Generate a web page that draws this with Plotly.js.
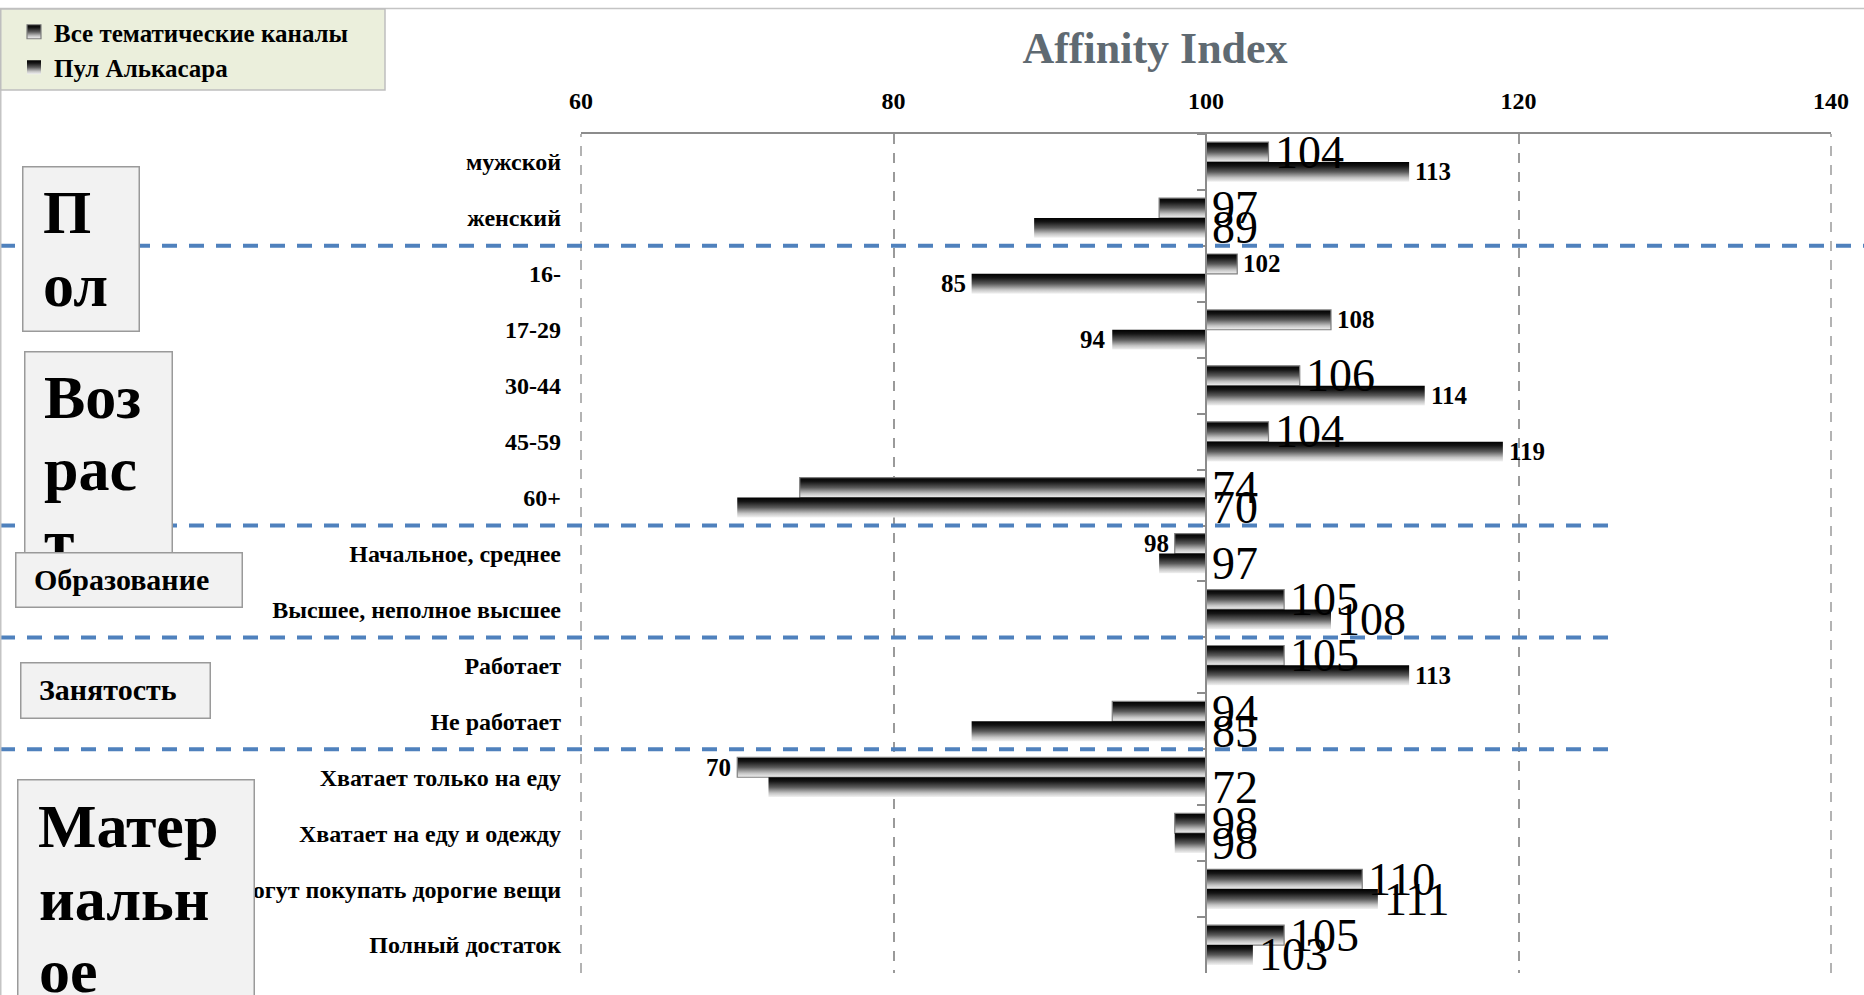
<!DOCTYPE html>
<html><head><meta charset="utf-8">
<script src="https://cdn.plot.ly/plotly-3.0.1.min.js"></script>
<style>html,body{margin:0;padding:0;background:#fff;} #chart{width:1864px;height:995px;}</style>
</head><body><div id="chart"></div>
<script>
// ---------------- data ----------------
const categories = ['мужской','женский','16-','17-29','30-44','45-59','60+',
  'Начальное, среднее','Высшее, неполное высшее','Работает','Не работает',
  'Хватает только на еду','Хватает на еду и одежду','Могут покупать дорогие вещи','Полный достаток'];
const seriesNames = ['Все тематические каналы','Пул Алькасара'];
const allChannels = [104,97,102,108,106,104,74,98,105,105,94,70,98,110,105];
const alcazarPool = [113,89,85,94,114,119,70,97,108,113,85,72,98,111,103];
const groupSizes = [2,5,2,2,4];
const xTicks = [60,80,100,120,140];
const xRange = [60,140];
const baseline = 100;
// label style flags (1 = large regular label, 0 = small bold label)
const allChannelsBig = [1,1,0,0,1,1,1,0,1,1,1,0,1,1,1];
const alcazarPoolBig = [0,1,0,0,0,0,1,1,1,0,1,1,1,1,1];

// ---------------- layout helpers ----------------
const W = 1864, H = 995;
const M = {l:581, r:33, t:134, b:22};
const PW = W - M.l - M.r, PH = H - M.t - M.b;
const px2x = px => (px - M.l) / PW;
const px2y = py => (H - M.b - py) / PH;
const SERIF = 'Liberation Serif, Times New Roman, serif';
const bargap = 0.29;
const GRID = '#9A9A9A';

function barTrace(name, vals, lineColor, lineWidth){
  return {
    type:'bar', orientation:'h', name:name,
    y: categories, x: vals.map(v => v - baseline), base: baseline,
    customdata: vals, hovertemplate:'%{y}: %{customdata}<extra>'+name+'</extra>',
    marker:{color:'#555', line:{color:lineColor, width:lineWidth}},
    textposition:'none'
  };
}
const traces = [
  barTrace(seriesNames[0], allChannels, '#7f7f7f', 1.2),
  barTrace(seriesNames[1], alcazarPool, 'rgba(0,0,0,0)', 0),
  {type:'scatter', mode:'markers', y:categories, x:categories.map(()=>baseline), yaxis:'y2',
   marker:{opacity:0}, hoverinfo:'skip', showlegend:false}
];

// value labels
const pxPerCat = PH / categories.length;
const barOff = (1 - bargap) * pxPerCat / 4;
function labelAnn(v, cat, big, up){
  const neg = v < baseline;
  let x = v, xanchor = 'left', xshift = 5;
  if (neg && big) { x = baseline; }
  else if (neg) { xanchor = 'right'; xshift = -5; }
  return {xref:'x', yref:'y', x:x, y:cat, text:String(v), showarrow:false,
    xanchor:xanchor, yanchor:'middle', xshift:xshift, yshift: up ? barOff : -barOff, borderpad:0,
    font: big ? {size:46, family:SERIF, color:'#000'} : {size:25, family:SERIF, color:'#000', weight:'bold'}};
}
const annotations = [];
categories.forEach((c,i)=>{
  annotations.push(labelAnn(allChannels[i], c, allChannelsBig[i], true));
  annotations.push(labelAnn(alcazarPool[i], c, alcazarPoolBig[i], false));
});

// group boxes
function boxAnn(l,t,r,b){
  return {xref:'paper', yref:'paper', x:px2x(l), y:px2y(t), xanchor:'left', yanchor:'top',
    width:r-l, height:b-t, text:' ', showarrow:false, bgcolor:'#F2F2F2',
    bordercolor:'#9A9A9A', borderwidth:1.5, borderpad:0};
}
function textAnn(txt,l,base,size){
  return {xref:'paper', yref:'paper', x:px2x(l), y:px2y(base - 0.34*size), xanchor:'left', yanchor:'middle',
    text:txt, showarrow:false, borderpad:0, font:{family:SERIF, size:size, color:'#000', weight:'bold'}};
}
annotations.push(boxAnn(22,166,137,329), textAnn('П',42,233,62), textAnn('ол',42,306,62));
annotations.push(boxAnn(24,351,170,598), textAnn('Воз',43,418,62), textAnn('рас',43,490,62), textAnn('т',43,562,62));
annotations.push(boxAnn(15,552,240,605), textAnn('Образование',33,590,30));
annotations.push(boxAnn(20,662,208,716), textAnn('Занятость',38,700,30));
annotations.push(boxAnn(17,779,252,1020), textAnn('Матер',37,847,62), textAnn('иальн',38,920,62), textAnn('ое',38,992,62));

// separator lines between groups
const shapes = [];
let cum = 0;
groupSizes.slice(0,-1).forEach((s,i)=>{
  cum += s;
  shapes.push({type:'line', xref:'paper', yref:'y', x0:px2x(0), x1: i===0 ? px2x(W) : px2x(1617),
    y0:cum-0.5, y1:cum-0.5, line:{color:'#4F81BD', width:4, dash:'15px,12px'}});
});
// dashed gridlines at the two range ends (Plotly omits them at the plot edges)
xRange.forEach(v=>{
  const fx = (v - xRange[0])/(xRange[1]-xRange[0]);
  shapes.push({type:'line', layer:'below', xref:'paper', yref:'paper', x0:fx, x1:fx, y0:0, y1:1,
    line:{color:GRID, width:1.5, dash:'10px,9px'}});
});
// chart-area border
shapes.push({type:'rect', xref:'paper', yref:'paper', x0:px2x(0.75), x1:px2x(W+20), y0:px2y(H+20), y1:px2y(8.5),
  line:{color:'#C4C4C4', width:1.5}, fillcolor:'rgba(0,0,0,0)'});
// legend panel
shapes.push({type:'rect', xref:'paper', yref:'paper', x0:px2x(0.75), x1:px2x(385), y0:px2y(90), y1:px2y(9),
  line:{color:'#BEBEBE', width:1.5}, fillcolor:'#EBEFDC'});

const catRange = [categories.length - 0.5, -0.5];
const layout = {
  width:W, height:H, margin:{l:M.l, r:M.r, t:M.t, b:M.b, pad:0},
  paper_bgcolor:'#fff', plot_bgcolor:'#fff',
  barmode:'group', bargap:bargap, bargroupgap:0,
  title:{text:'Affinity Index', xref:'container', yref:'container', x:1155/W, y:1-47.5/H,
    xanchor:'center', yanchor:'middle', font:{family:SERIF, size:44, color:'#5F6A72', weight:'bold'}},
  xaxis:{range:xRange, tickvals:xTicks, side:'top', showgrid:true, gridcolor:GRID, griddash:'10px,9px',
    gridwidth:1.5, showline:true, linecolor:'#8C8C8C', linewidth:1.5, ticks:'', zeroline:false,
    ticklabelstandoff:14, tickfont:{family:SERIF, size:24, color:'#000', weight:'bold'}},
  yaxis:{type:'category', categoryorder:'array', categoryarray:categories, range:catRange,
    showgrid:false, zeroline:false, showline:false, ticks:'', ticklabelstandoff:19,
    tickfont:{family:SERIF, size:24, color:'#000', weight:'bold'}},
  yaxis2:{type:'category', categoryorder:'array', categoryarray:categories, range:catRange,
    overlaying:'y', anchor:'free', position:(baseline - xRange[0])/(xRange[1]-xRange[0]), side:'left',
    showline:true, linecolor:'#8C8C8C', linewidth:1.5, ticks:'outside', ticklen:8, tickwidth:1.5,
    tickcolor:'#8C8C8C', tickson:'boundaries', showticklabels:false, showgrid:false, zeroline:false},
  legend:{xref:'container', yref:'container', x:0, y:1-9/H, xanchor:'left', yanchor:'top',
    bgcolor:'rgba(0,0,0,0)', borderwidth:0, traceorder:'normal', indentation:14,
    font:{family:SERIF, size:25, color:'#000', weight:'bold'}},
  showlegend:true,
  annotations:annotations, shapes:shapes
};

function applyGradients(gd){
  const ns = 'http://www.w3.org/2000/svg';
  const svg = gd.querySelector('svg.main-svg');
  let defs = svg.querySelector('defs');
  if(!defs){ defs = document.createElementNS(ns,'defs'); svg.insertBefore(defs, svg.firstChild); }
  const g = document.createElementNS(ns,'linearGradient');
  g.setAttribute('id','barGrad'); g.setAttribute('x1','0'); g.setAttribute('y1','0');
  g.setAttribute('x2','0'); g.setAttribute('y2','1');
  [[0,'#000000'],[0.2,'#151515'],[0.5,'#5a5a5a'],[0.8,'#c4c4c4'],[1,'#f2f2f2']].forEach(s=>{
    const st = document.createElementNS(ns,'stop');
    st.setAttribute('offset', s[0]); st.setAttribute('stop-color', s[1]); g.appendChild(st);
  });
  defs.appendChild(g);
  gd.querySelectorAll('.barlayer .point path').forEach(p=>{ p.style.fill='url(#barGrad)'; });
  gd.querySelectorAll('.legend .legendpoints path').forEach(p=>{
    p.setAttribute('d','M7,7H-7V-7H7Z'); p.style.fill='url(#barGrad)';
  });
}

const gd = document.getElementById('chart');
Plotly.newPlot(gd, traces, layout, {displayModeBar:false, staticPlot:false}).then(()=>applyGradients(gd));
</script>
</body></html>
